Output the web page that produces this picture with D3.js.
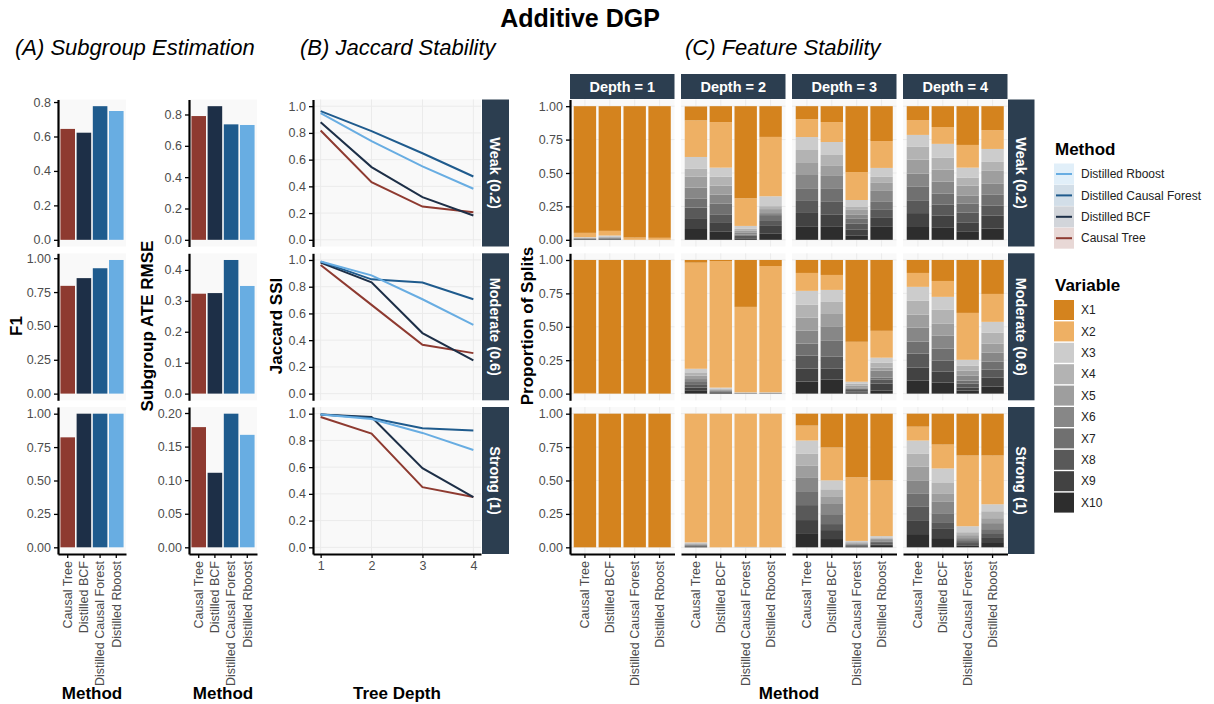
<!DOCTYPE html>
<html><head><meta charset="utf-8">
<script src="https://cdn.jsdelivr.net/npm/d3@7"></script>
<style>
body{margin:0;background:#fff}
svg{font-family:"Liberation Sans",Arial,Helvetica,sans-serif}
</style></head>
<body><svg id="c" width="1214" height="704"></svg>
<script>
// ---------------- DATA ----------------
const methods = ["Causal Tree","Distilled BCF","Distilled Causal Forest","Distilled Rboost"];
const methodColors = ["#8E3A30","#1D2F47","#1F5B8D","#68ADE2"];
const strengths = ["Weak (0.2)","Moderate (0.6)","Strong (1)"];
const depths = [1,2,3,4];
const depthLabels = ["Depth = 1","Depth = 2","Depth = 3","Depth = 4"];
const variables = ["X1","X2","X3","X4","X5","X6","X7","X8","X9","X10"];
const variableColors = ["#D4831E","#EEB064","#CCCCCC","#B3B3B3","#9E9E9E","#878787","#707070","#595959","#424242","#2D2D2D"];

// F1 by strength (methods order)
const f1Weak = [0.644,0.622,0.776,0.748];
const f1Moderate = [0.796,0.853,0.926,0.987];
const f1Strong = [0.823,1.0,1.0,1.0];
// Subgroup ATE RMSE by strength
const rmseWeak = [0.790,0.853,0.737,0.733];
const rmseModerate = [0.323,0.325,0.432,0.348];
const rmseStrong = [0.179,0.111,0.199,0.1675];

const f1Ticks = [[0,0.2,0.4,0.6,0.8],[0,0.25,0.5,0.75,1],[0,0.25,0.5,0.75,1]];
const rmseTicks = [[0,0.2,0.4,0.6,0.8],[0,0.1,0.2,0.3,0.4],[0,0.05,0.1,0.15,0.2]];
const f1Digits = [1,2,2];
const rmseDigits = [1,1,2];
const jaccardTicks = [0,0.2,0.4,0.6,0.8,1.0];
const splitTicks = [0,0.25,0.5,0.75,1];

// Jaccard SSI by depth: rows = methods
const jaccardWeak = [[0.818,0.431,0.249,0.207],[0.880,0.544,0.319,0.182],[0.963,0.813,0.648,0.474],[0.948,0.738,0.549,0.382]];
const jaccardModerate = [[0.963,0.664,0.366,0.303],[0.980,0.833,0.453,0.249],[0.988,0.855,0.831,0.706],[0.988,0.885,0.706,0.515]];
const jaccardStrong = [[0.975,0.851,0.450,0.376],[0.993,0.975,0.592,0.376],[0.993,0.968,0.891,0.874],[0.993,0.960,0.856,0.728]];

// Proportion of splits per variable X1..X10 ; rows = methods
const splitsWeakD1 = [[0.948,0.032,0.003,0.003,0.002,0.002,0.002,0.002,0.003,0.003],[0.933,0.035,0.007,0.005,0.004,0.003,0.003,0.003,0.004,0.003],[0.983,0.017,0,0,0,0,0,0,0,0],[0.985,0.015,0,0,0,0,0,0,0,0]];
const splitsWeakD2 = [[0.104,0.274,0.089,0.059,0.081,0.081,0.069,0.079,0.081,0.081],[0.119,0.341,0.067,0.067,0.067,0.067,0.081,0.059,0.072,0.060],[0.689,0.207,0.022,0.015,0.015,0.012,0.010,0.010,0.010,0.010],[0.230,0.444,0.074,0.022,0.030,0.015,0.044,0.037,0.059,0.045]];
const splitsWeakD3 = [[0.097,0.134,0.097,0.097,0.090,0.104,0.090,0.090,0.104,0.097],[0.119,0.149,0.097,0.082,0.075,0.097,0.097,0.097,0.090,0.097],[0.493,0.209,0.052,0.022,0.037,0.030,0.037,0.045,0.045,0.030],[0.261,0.201,0.067,0.045,0.060,0.082,0.060,0.060,0.067,0.097]];
const splitsWeakD4 = [[0.104,0.111,0.089,0.096,0.104,0.096,0.104,0.096,0.104,0.096],[0.156,0.126,0.104,0.089,0.089,0.089,0.082,0.082,0.089,0.094],[0.290,0.170,0.074,0.060,0.074,0.060,0.067,0.074,0.067,0.064],[0.179,0.141,0.097,0.067,0.097,0.082,0.082,0.075,0.097,0.083]];
const splitsModerateD1 = [[0.995,0.005,0,0,0,0,0,0,0,0],[1,0,0,0,0,0,0,0,0,0],[1,0,0,0,0,0,0,0,0,0],[1,0,0,0,0,0,0,0,0,0]];
const splitsModerateD2 = [[0.020,0.794,0.027,0.025,0.025,0.022,0.022,0.020,0.020,0.025],[0.008,0.947,0.008,0.006,0.006,0.005,0.005,0.005,0.005,0.005],[0.351,0.639,0.002,0.002,0.001,0.001,0.001,0.001,0.001,0.001],[0.045,0.945,0.002,0.002,0.001,0.001,0.001,0.001,0.001,0.001]];
const splitsModerateD3 = [[0.097,0.134,0.104,0.097,0.097,0.097,0.090,0.097,0.097,0.090],[0.112,0.112,0.090,0.090,0.097,0.104,0.119,0.090,0.082,0.104],[0.612,0.299,0.015,0.015,0.012,0.010,0.010,0.010,0.010,0.007],[0.530,0.201,0.037,0.037,0.022,0.052,0.015,0.030,0.052,0.024]];
const splitsModerateD4 = [[0.097,0.104,0.104,0.104,0.097,0.104,0.090,0.104,0.097,0.099],[0.157,0.119,0.097,0.104,0.090,0.097,0.090,0.082,0.082,0.082],[0.396,0.351,0.045,0.037,0.037,0.037,0.022,0.030,0.022,0.023],[0.254,0.209,0.082,0.082,0.067,0.067,0.060,0.060,0.067,0.052]];
const splitsStrongD1 = [[1,0,0,0,0,0,0,0,0,0],[1,0,0,0,0,0,0,0,0,0],[1,0,0,0,0,0,0,0,0,0],[1,0,0,0,0,0,0,0,0,0]];
const splitsStrongD2 = [[0,0.963,0.006,0.005,0.005,0.004,0.004,0.004,0.004,0.005],[0,1,0,0,0,0,0,0,0,0],[0,0.997,0.001,0.001,0.001,0,0,0,0,0],[0,1,0,0,0,0,0,0,0,0]];
const splitsStrongD3 = [[0.089,0.112,0.097,0.089,0.089,0.104,0.104,0.112,0.104,0.100],[0.253,0.246,0.067,0.052,0.052,0.082,0.074,0.045,0.067,0.062],[0.476,0.476,0.008,0.006,0.006,0.006,0.006,0.006,0.005,0.005],[0.499,0.417,0.010,0.010,0.010,0.010,0.012,0.010,0.012,0.010]];
const splitsStrongD4 = [[0.097,0.104,0.097,0.097,0.104,0.097,0.097,0.104,0.104,0.099],[0.231,0.179,0.104,0.082,0.060,0.089,0.067,0.045,0.074,0.069],[0.313,0.529,0.045,0.022,0.022,0.015,0.015,0.015,0.012,0.012],[0.313,0.365,0.052,0.052,0.037,0.045,0.030,0.030,0.037,0.039]];

const f1Values = [f1Weak,f1Moderate,f1Strong];
const rmseValues = [rmseWeak,rmseModerate,rmseStrong];
const jaccardValues = [jaccardWeak,jaccardModerate,jaccardStrong];
const splitValues = [[splitsWeakD1,splitsWeakD2,splitsWeakD3,splitsWeakD4],[splitsModerateD1,splitsModerateD2,splitsModerateD3,splitsModerateD4],[splitsStrongD1,splitsStrongD2,splitsStrongD3,splitsStrongD4]];

// ---------------- LAYOUT ----------------
const svg = d3.select("#c");
const rowTop = [99.5,253.3,407];
const rowH = 147;
const panelBg = "#F9F9F9", gridCol = "#EBEBEB", stripCol = "#2C3E50";
const tickCol = "#4D4D4D";
const colorOf = d3.scaleOrdinal().domain(methods).range(methodColors);
const varColor = d3.scaleOrdinal().domain(variables).range(variableColors);

function styleAxis(g){
  g.select(".domain").attr("stroke","#000").attr("stroke-width",2.2);
  g.selectAll(".tick line").attr("stroke","#000").attr("stroke-width",1.3);
  g.selectAll(".tick text").attr("fill",tickCol).attr("font-size","12.5px").attr("font-family","Liberation Sans, Arial, sans-serif");
}
function methodXAxis(x, y0){
  const g = svg.append("g").attr("transform",`translate(0,${y0})`)
    .call(d3.axisBottom(x).tickSize(4).tickSizeOuter(0));
  styleAxis(g);
  g.selectAll(".tick text").attr("transform","rotate(-90)").attr("text-anchor","end")
    .attr("x",-7).attr("y",0).attr("dy","0.35em");
  return g;
}

function barPanel(x0,w,r,values,ticks,digits,showX){
  const y0 = rowTop[r];
  svg.append("rect").attr("x",x0).attr("y",y0).attr("width",w).attr("height",rowH).attr("fill",panelBg);
  const x = d3.scaleBand().domain(methods).range([x0,x0+w]).paddingInner(0.1).paddingOuter(0.15);
  const mx = d3.max(values);
  const y = d3.scaleLinear().domain([-0.05*mx,1.05*mx]).range([y0+rowH,y0]);
  svg.append("g").selectAll("rect").data(methods).join("rect")
    .attr("x",m=>x(m)).attr("width",x.bandwidth())
    .attr("y",(m,i)=>y(values[i])).attr("height",(m,i)=>y(0)-y(values[i]))
    .attr("fill",m=>colorOf(m));
  const ga = svg.append("g").attr("transform",`translate(${x0},0)`)
    .call(d3.axisLeft(y).tickValues(ticks).tickFormat(d3.format(`.${digits}f`)).tickSize(4).tickSizeOuter(0));
  styleAxis(ga);
  if(showX) methodXAxis(x, y0+rowH);
}

// Panel A
for(let r=0;r<3;r++){
  barPanel(58,68,r,f1Values[r],f1Ticks[r],f1Digits[r],r===2);
  barPanel(189,68,r,rmseValues[r],rmseTicks[r],rmseDigits[r],r===2);
}

// Strip helpers
function rightStrip(x0,w,r,label){
  svg.append("rect").attr("x",x0).attr("y",rowTop[r]).attr("width",w).attr("height",rowH).attr("fill",stripCol);
  svg.append("text").attr("transform",`translate(${x0+w/2},${rowTop[r]+rowH/2}) rotate(90)`)
    .attr("text-anchor","middle").attr("dy","0.35em").attr("fill","#fff")
    .attr("font-weight","bold").attr("font-size","14.5px").text(label);
}

// Panel B: Jaccard
const jx0 = 313, jw = 168;
for(let r=0;r<3;r++){
  const y0=rowTop[r];
  svg.append("rect").attr("x",jx0).attr("y",y0).attr("width",jw).attr("height",rowH).attr("fill",panelBg);
  const x = d3.scaleLinear().domain([0.85,4.15]).range([jx0,jx0+jw]);
  const y = d3.scaleLinear().domain([-0.05,1.05]).range([y0+rowH,y0]);
  svg.append("g").selectAll("line").data(jaccardTicks).join("line")
    .attr("x1",jx0).attr("x2",jx0+jw).attr("y1",d=>y(d)).attr("y2",d=>y(d)).attr("stroke",gridCol).attr("stroke-width",1);
  svg.append("g").selectAll("line").data(depths).join("line")
    .attr("y1",y0).attr("y2",y0+rowH).attr("x1",d=>x(d)).attr("x2",d=>x(d)).attr("stroke",gridCol).attr("stroke-width",1);
  const line = d3.line().x((d,i)=>x(depths[i])).y(d=>y(d));
  svg.append("g").selectAll("path").data(jaccardValues[r]).join("path")
    .attr("d",d=>line(d)).attr("fill","none").attr("stroke",(d,i)=>methodColors[i]).attr("stroke-width",2);
  const ga = svg.append("g").attr("transform",`translate(${jx0},0)`)
    .call(d3.axisLeft(y).tickValues(jaccardTicks).tickFormat(d3.format(".1f")).tickSize(4).tickSizeOuter(0));
  styleAxis(ga);
  if(r===2){
    const gb = svg.append("g").attr("transform",`translate(0,${y0+rowH})`)
      .call(d3.axisBottom(x).tickValues(depths).tickFormat(d3.format("d")).tickSize(4).tickSizeOuter(0));
    styleAxis(gb);
  }
  rightStrip(jx0+jw+1,27,r,strengths[r]);
}

// Panel C: Feature stability
const cx0 = [570,681,792,903], cw = 104.5;
const stack = d3.stack().keys(variables.slice().reverse());
for(let d=0; d<4; d++){
  svg.append("rect").attr("x",cx0[d]).attr("y",74).attr("width",cw).attr("height",25).attr("fill",stripCol);
  svg.append("text").attr("x",cx0[d]+cw/2).attr("y",86.5).attr("dy","0.35em").attr("text-anchor","middle")
    .attr("fill","#fff").attr("font-weight","bold").attr("font-size","14.5px").text(depthLabels[d]);
}
for(let r=0;r<3;r++){
  const y0=rowTop[r];
  const y = d3.scaleLinear().domain([-0.05,1.05]).range([y0+rowH,y0]);
  for(let d=0; d<4; d++){
    const x0=cx0[d];
    svg.append("rect").attr("x",x0).attr("y",y0).attr("width",cw).attr("height",rowH).attr("fill",panelBg);
    const x = d3.scaleBand().domain(methods).range([x0,x0+cw]).paddingInner(0.1).paddingOuter(0.15);
    svg.append("g").selectAll("line").data(splitTicks).join("line")
      .attr("x1",x0).attr("x2",x0+cw).attr("y1",v=>y(v)).attr("y2",v=>y(v)).attr("stroke",gridCol);
    svg.append("g").selectAll("line").data(methods).join("line")
      .attr("x1",m=>x(m)+x.bandwidth()/2).attr("x2",m=>x(m)+x.bandwidth()/2).attr("y1",y0).attr("y2",y0+rowH).attr("stroke",gridCol);
    const rows = splitValues[r][d].map((vals,i)=>{
      const o={method:methods[i]}; variables.forEach((v,k)=>o[v]=vals[k]); return o;
    });
    const series = stack(rows);
    svg.append("g").selectAll("g").data(series).join("g").attr("fill",s=>varColor(s.key))
      .selectAll("rect").data(s=>s).join("rect")
      .attr("x",p=>x(p.data.method)).attr("width",x.bandwidth())
      .attr("y",p=>y(p[1])).attr("height",p=>Math.max(0,y(p[0])-y(p[1])));
    if(d===0){
      const ga = svg.append("g").attr("transform",`translate(${x0},0)`)
        .call(d3.axisLeft(y).tickValues(splitTicks).tickFormat(d3.format(".2f")).tickSize(4).tickSizeOuter(0));
      styleAxis(ga);
    }
    if(r===2) methodXAxis(x, y0+rowH);
  }
  rightStrip(cx0[3]+cw+0.5,26.5,r,strengths[r]);
}

// Titles
svg.append("text").attr("x",580).attr("y",27).attr("text-anchor","middle").attr("font-weight","bold").attr("font-size","25px").text("Additive DGP");
const subs = [["(A) Subgroup Estimation",15],["(B) Jaccard Stability",300],["(C) Feature Stability",685]];
subs.forEach(s=>svg.append("text").attr("x",s[1]).attr("y",55).attr("font-style","italic").attr("font-size","22px").text(s[0]));

// Axis titles
const yTitles = [["F1",22],["Subgroup ATE RMSE",153],["Jaccard SSI",282],["Proportion of Splits",533]];
yTitles.forEach(t=>svg.append("text").attr("transform",`translate(${t[1]},326) rotate(-90)`).attr("text-anchor","middle")
  .attr("font-weight","bold").attr("font-size","17px").text(t[0]));
const xTitles = [["Method",92],["Method",223],["Tree Depth",397],["Method",789]];
xTitles.forEach(t=>svg.append("text").attr("x",t[1]).attr("y",699).attr("text-anchor","middle")
  .attr("font-weight","bold").attr("font-size","17px").text(t[0]));

// Legends
const lg = svg.append("g");
lg.append("text").attr("x",1055).attr("y",155).attr("font-weight","bold").attr("font-size","17px").text("Method");
const legendMethods = methods.slice().reverse();
legendMethods.forEach((m,i)=>{
  const cy = 174 + i*21.4;
  lg.append("rect").attr("x",1054).attr("y",cy-10.5).attr("width",20).attr("height",21).attr("fill",colorOf(m)).attr("fill-opacity",0.2);
  lg.append("line").attr("x1",1056).attr("x2",1072).attr("y1",cy).attr("y2",cy).attr("stroke",colorOf(m)).attr("stroke-width",2);
  lg.append("text").attr("x",1081).attr("y",cy).attr("dy","0.35em").attr("font-size","12px").attr("fill","#222").text(m);
});
lg.append("text").attr("x",1055).attr("y",291).attr("font-weight","bold").attr("font-size","17px").text("Variable");
variables.forEach((v,i)=>{
  const cy = 310 + i*21.4;
  lg.append("rect").attr("x",1054).attr("y",cy-10).attr("width",20).attr("height",20).attr("fill",varColor(v));
  lg.append("text").attr("x",1081).attr("y",cy).attr("dy","0.35em").attr("font-size","12px").attr("fill","#222").text(v);
});
</script>
</body></html>
